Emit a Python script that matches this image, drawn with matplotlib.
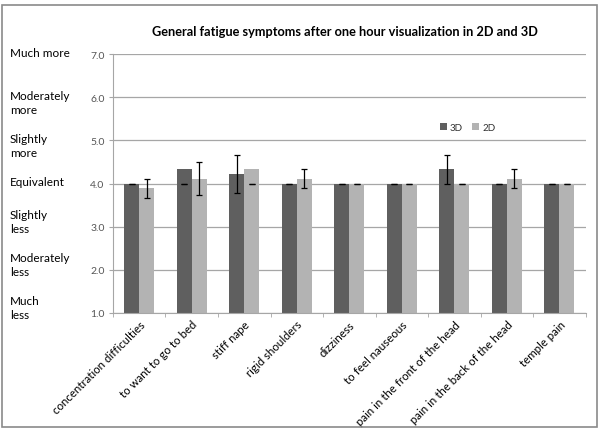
import numpy as np
import matplotlib
matplotlib.use("Agg")
import matplotlib.pyplot as plt
from matplotlib.patches import Rectangle

plt.rcParams['font.family'] = ['Lato', 'DejaVu Sans']

# data
symptomen = ["concentration difficulties", "to want to go to bed", "stiff nape",
             "rigid shoulders", "dizziness", "to feel nauseous",
             "pain in the front of the head", "pain in the back of the head",
             "temple pain"]
waarde_3d = [4.0, 4.33, 4.22, 4.0, 4.0, 4.0, 4.33, 4.0, 4.0]
waarde_2d = [3.89, 4.11, 4.33, 4.11, 4.0, 4.0, 4.0, 4.11, 4.0]
fout_3d_laag = [0, 0.33, 0.44, 0, 0, 0, 0.33, 0, 0]
fout_3d_hoog = [0, 0, 0.44, 0, 0, 0, 0.33, 0, 0]
fout_2d_laag = [0.22, 0.38, 0.33, 0.22, 0, 0, 0, 0.22, 0]
fout_2d_hoog = [0.22, 0.38, 0, 0.22, 0, 0, 0, 0.22, 0]
schaal_ticks = [1, 2, 3, 4, 5, 6, 7]
schaal_labels = ["Much\nless", "Moderately\nless", "Slightly\nless", "Equivalent",
                 "Slightly\nmore", "Moderately\nmore", "Much more"]

fig = plt.figure(figsize=(6.07, 4.31), dpi=100)
ax = fig.add_axes([0.186, 0.2715, 0.779, 0.6005])

x = np.arange(len(symptomen))
w = 1 / 3.5
ax.bar(x - w / 2, waarde_3d, w, color='#5f5f5f', label='3D', zorder=2)
ax.bar(x + w / 2, waarde_2d, w, color='#b3b3b3', label='2D', zorder=2)


def foutbalken(xpos, y, laag, hoog):
    # alleen naar beneden -> lijn valt weg in de balk, alleen het kapje zichtbaar
    laag = np.array(laag)
    hoog = np.array(hoog)
    y = np.array(y)
    alleen_laag = (hoog == 0) & (laag > 0)
    rest = ~alleen_laag
    ax.errorbar(xpos[rest], y[rest], yerr=[laag[rest], hoog[rest]], fmt='none',
                ecolor='black', elinewidth=0.9, capsize=2.5, capthick=0.9, zorder=3)
    ax.errorbar(xpos[alleen_laag], y[alleen_laag] - laag[alleen_laag], yerr=0,
                fmt='none', ecolor='black', elinewidth=0.9, capsize=2.5,
                capthick=0.9, zorder=3)


foutbalken(x - w / 2, waarde_3d, fout_3d_laag, fout_3d_hoog)
foutbalken(x + w / 2, waarde_2d, fout_2d_laag, fout_2d_hoog)

ax.set_xlim(-0.5, len(symptomen) - 0.5)
ax.set_ylim(1, 7)
ax.set_yticks(schaal_ticks)
ax.set_yticklabels([f"{t:.1f}" for t in schaal_ticks], fontsize=7.5, color='#555555')
ax.yaxis.grid(True, color='#a6a6a6', linewidth=0.9, zorder=0)
ax.tick_params(axis='y', length=3, color='#a6a6a6', pad=3)

ax.set_xticks(x)
ax.set_xticklabels(symptomen, rotation=45, ha='right', rotation_mode='anchor', fontsize=8.3)
ax.tick_params(axis='x', length=0, pad=4)
ax.set_xticks(np.arange(len(symptomen) + 1) - 0.5, minor=True)
ax.tick_params(axis='x', which='minor', length=3, color='#a6a6a6')

for s in ['top', 'right']:
    ax.spines[s].set_visible(False)
ax.spines['left'].set_color('#a6a6a6')
ax.spines['bottom'].set_color('#a6a6a6')

# schaal teksten links
trans = matplotlib.transforms.blended_transform_factory(fig.transFigure, ax.transData)
for t, lab in zip(schaal_ticks, schaal_labels):
    if t >= 4:
        ax.text(0.016, t + 0.17, lab, transform=trans, va='top', ha='left',
                fontsize=8.5, linespacing=1.35)
    else:
        ax.text(0.016, t - 0.17, lab, transform=trans, va='bottom', ha='left',
                fontsize=8.5, linespacing=1.35)

ax.set_title("General fatigue symptoms after one hour visualization in 2D and 3D",
             fontsize=9.2, fontweight='bold', x=0.49, pad=14)

ax.legend(loc='center', bbox_to_anchor=(0.75, 0.718), ncol=2, frameon=False,
          fontsize=7, handlelength=0.7, handleheight=0.7, columnspacing=1.0,
          handletextpad=0.3, labelcolor='#333333')

fig.patches.append(Rectangle((0.004, 0.007), 0.98, 0.98, transform=fig.transFigure,
                             fill=False, edgecolor='#8a8a8a', linewidth=1.2))

fig.savefig("out.png", dpi=100)
